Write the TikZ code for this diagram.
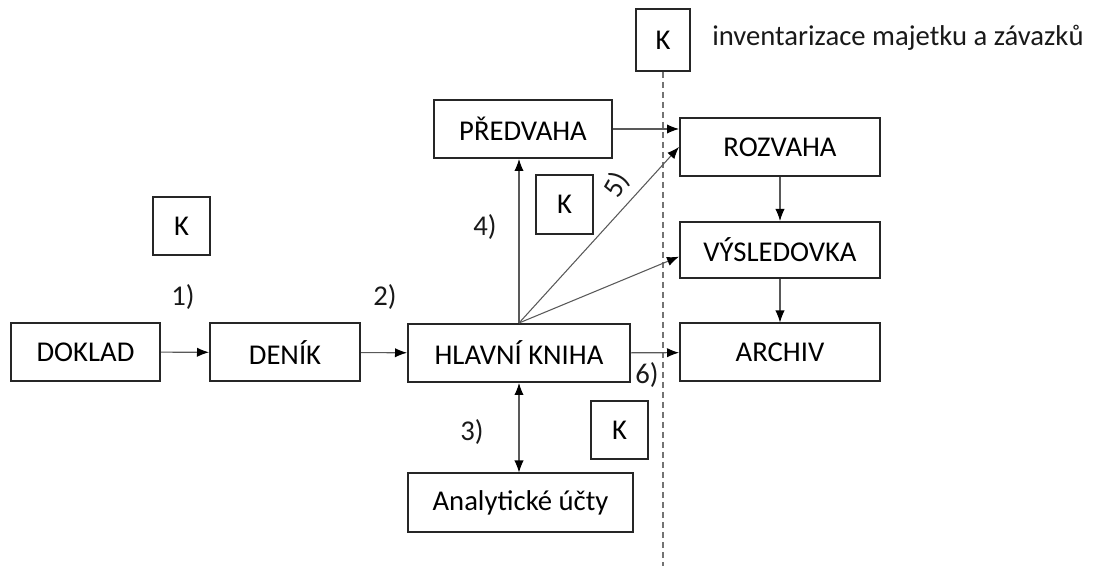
\documentclass[tikz,border=0pt]{standalone}
\usepackage{fontspec}
\setmainfont{Carlito}
\usetikzlibrary{arrows.meta}

\begin{document}
\begin{tikzpicture}[
        x=0.75pt, y=-0.75pt,
        every node/.style={font=\fontsize{21.5}{25}\selectfont, inner sep=0pt},
        box/.style={draw=black!85, line width=1.5pt, minimum height=43.5pt},
        kbox/.style={box, minimum width=42.5pt, minimum height=44pt},
        lbl/.style={text=black!90},
        arr/.style={draw=black!65, line width=0.8pt, -{Latex[length=9pt,width=7pt,color=black]}},
        dbl/.style={arr, {Latex[length=9pt,width=7pt,color=black]}-{Latex[length=9pt,width=7pt,color=black]}},
        border/.style={draw=black!55, line width=1.5pt, dash pattern=on 4.5pt off 3pt}
    ]
    \useasboundingbox (0,0) rectangle (1107,566);

    % main chain
    \node[box, minimum width=111.75pt] (doklad) at (85.5,352) {DOKLAD};
    \node[box, minimum width=112.5pt] (denik) at (285,352.5) {DENÍK};
    \node[box, minimum width=166.5pt] (hlavni) at (519,353) {HLAVNÍ KNIHA};
    \node[box, minimum width=150pt] (archiv) at (780,352.5) {ARCHIV};
    \node[box, minimum width=133.5pt] (predvaha) at (523,129) {PŘEDVAHA};
    \node[box, minimum width=150pt] (rozvaha) at (780,147) {ROZVAHA};
    \node[box, minimum width=150pt, minimum height=42pt] (vysledovka) at (780,250) {VÝSLEDOVKA};
    \node[box, minimum width=169pt] (analyticke) at (520.5,502.5) {Analytické účty};

    % control boxes
    \node[kbox] (kleft) at (181.5,226) {K};
    \node[kbox] (kmid) at (564.5,204.5) {K};
    \node[kbox] (kbottom) at (619.5,430) {K};
    \node[kbox, minimum width=40.5pt, minimum height=46.5pt] (ktop) at (663,40) {K};
    \node[lbl, anchor=west] (inventura) at (712,38) {inventarizace majetku a závazků};

    % dividing line
    \coordinate (dashend) at (663,566);
    \draw[border] (ktop.south) -- (dashend);

    % connectors
    \draw[arr] (doklad) -- (denik);
    \draw[arr] (denik) -- (hlavni);
    \draw[arr] (hlavni) -- (archiv);
    \draw[arr] (hlavni.north) -- (hlavni.north |- predvaha.south);
    \draw[arr] (predvaha.east) -- (predvaha.east -| rozvaha.west);
    \draw[arr] (hlavni.north) -- (rozvaha.west);
    \draw[arr] (hlavni.north) -- ([yshift=-5pt]vysledovka.west);
    \draw[arr] (rozvaha) -- (vysledovka);
    \draw[arr] (vysledovka) -- (archiv);
    \draw[dbl] (hlavni.south) -- (hlavni.south |- analyticke.north);

    % step labels
    \node[lbl] (l1) at (183,297) {1)};
    \node[lbl] (l2) at (385,297) {2)};
    \node[lbl] (l3) at (472,432) {3)};
    \node[lbl] (l4) at (485,227) {4)};
    \node[lbl, rotate=60] (l5) at (617,185) {5)};
    \node[lbl] (l6) at (647,375) {6)};
\end{tikzpicture}
\end{document}
